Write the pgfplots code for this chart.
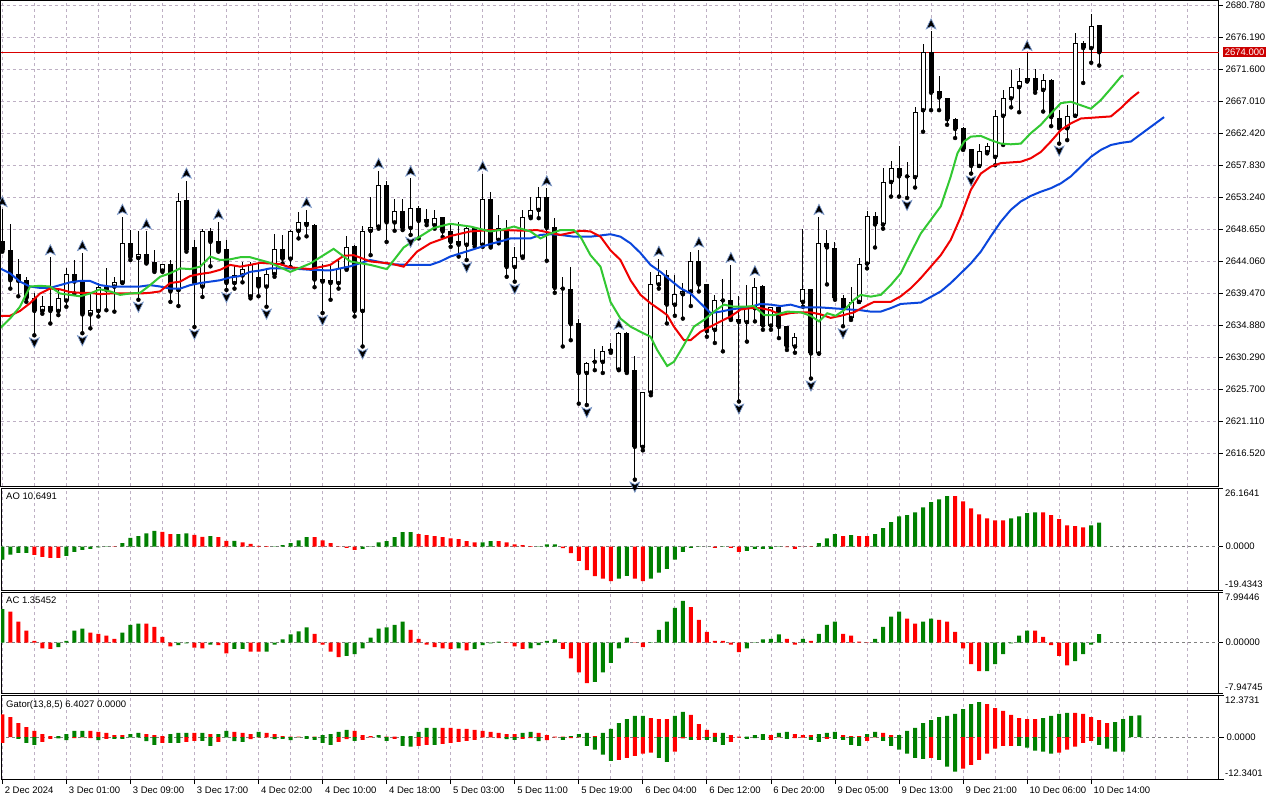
\documentclass[border=0pt]{standalone}
\usepackage{fontspec}
\setmainfont{Liberation Sans}
\usepackage{pgfplots}
\usepackage{pgfplotstable}
\pgfplotsset{compat=1.18}
\definecolor{mtgreen}{RGB}{0,128,0}
\definecolor{mtred}{RGB}{255,0,0}
\definecolor{jaw}{RGB}{10,70,220}
\definecolor{teeth}{RGB}{240,0,0}
\definecolor{lips}{RGB}{50,200,50}
\definecolor{gridc}{RGB}{190,176,196}
\definecolor{fredge}{RGB}{120,150,200}
\pgfdeclareplotmark{fup}{%
 \pgfpathmoveto{\pgfqpoint{0pt}{5.5pt}}%
 \pgfpathlineto{\pgfqpoint{4.8pt}{-4.5pt}}%
 \pgfpathlineto{\pgfqpoint{0pt}{-2pt}}%
 \pgfpathlineto{\pgfqpoint{-4.8pt}{-4.5pt}}%
 \pgfpathclose\pgfusepathqfillstroke}
\pgfdeclareplotmark{fdn}{%
 \pgfpathmoveto{\pgfqpoint{0pt}{-5.5pt}}%
 \pgfpathlineto{\pgfqpoint{4.8pt}{4.5pt}}%
 \pgfpathlineto{\pgfqpoint{0pt}{2pt}}%
 \pgfpathlineto{\pgfqpoint{-4.8pt}{4.5pt}}%
 \pgfpathclose\pgfusepathqfillstroke}
\newcommand{\lbl}{\fontsize{9.5}{11}\selectfont}
\pgfplotsset{
 mtbase/.style={
  scale only axis, width=1218pt,
  xmin=-0.1625, xmax=151.96,
  axis line style={line width=1pt},
  xtick={0,8,16,24,32,40,48,56,64,72,80,88,96,104,112,120,128,136},
  minor xtick={4,12,20,28,36,44,52,60,68,76,84,92,100,108,116,124,132,140,144,148,152},
  xmajorgrids, xminorgrids,
  major grid style={gridc, dash pattern=on 3pt off 3pt, line width=0.8pt},
  minor grid style={gridc, dash pattern=on 3pt off 3pt, line width=0.8pt},
  xticklabels={}, xtick style={draw=none}, minor tick length=0pt,
  tick label style={font=\lbl},
  ytick pos=right, yticklabel pos=right,
  ytick style={black, line width=0.8pt},
  tick align=outside, major tick length=4pt,
  yticklabel style={anchor=west, xshift=-1pt},
  clip mode=individual,
 },
 bars/.style={ybar, bar width=4pt, bar shift=0pt, draw=none, fill=#1, forget plot},
 zl/.style={gray, dash pattern=on 3pt off 3pt, line width=0.8pt, forget plot},
}
\pgfplotstableread{
k o h l c
0 2647.0 2651.5 2645.4 2645.6
1 2645.6 2649.4 2640.1 2641.3
2 2642.2 2644.3 2639.0 2641.2
3 2641.3 2641.8 2638.2 2638.7
4 2638.7 2639.4 2633.4 2636.9
5 2636.9 2639.0 2636.5 2637.6
6 2637.6 2644.6 2635.1 2636.9
7 2636.9 2640.1 2636.3 2638.7
8 2638.4 2643.0 2637.5 2642.2
9 2642.2 2644.2 2639.4 2641.1
10 2641.1 2645.2 2633.7 2636.4
11 2636.4 2639.4 2634.4 2637.0
12 2636.9 2640.9 2636.1 2640.4
13 2640.4 2643.0 2637.0 2639.9
14 2640.4 2641.8 2636.8 2641.0
15 2641.0 2650.4 2640.9 2646.7
16 2646.7 2648.5 2644.2 2644.6
17 2644.5 2648.3 2638.5 2645.0
18 2645.0 2648.3 2643.7 2643.8
19 2643.9 2645.6 2642.5 2642.7
20 2642.7 2643.7 2642.5 2643.6
21 2643.6 2644.2 2638.2 2639.7
22 2639.9 2653.8 2637.6 2652.7
23 2652.8 2655.6 2645.4 2645.7
24 2646.0 2647.1 2634.6 2640.9
25 2640.4 2648.6 2638.9 2648.4
26 2648.4 2648.8 2643.3 2646.8
27 2646.9 2649.7 2645.4 2645.5
28 2645.8 2647.1 2639.9 2640.9
29 2640.9 2643.3 2640.1 2642.0
30 2642.0 2643.9 2641.0 2642.9
31 2639.0 2643.9 2638.7 2643.7
32 2641.7 2643.7 2639.0 2640.4
33 2640.4 2642.8 2637.5 2642.2
34 2642.2 2648.0 2641.8 2645.8
35 2645.8 2647.8 2643.7 2644.4
36 2644.4 2648.5 2643.2 2648.4
37 2648.4 2651.1 2647.3 2649.6
38 2649.7 2651.4 2647.6 2649.2
39 2649.2 2649.3 2640.3 2641.4
40 2641.5 2643.7 2636.6 2641.1
41 2641.3 2643.7 2638.5 2640.9
42 2640.9 2644.2 2640.1 2643.0
43 2643.0 2647.6 2642.8 2646.1
44 2646.2 2646.3 2636.1 2636.9
45 2636.9 2649.1 2631.8 2648.4
46 2648.4 2653.3 2644.9 2649.0
47 2649.0 2657.0 2648.7 2655.0
48 2655.0 2655.6 2646.8 2649.6
49 2649.6 2652.9 2648.4 2651.3
50 2651.3 2653.0 2648.5 2648.8
51 2648.8 2655.9 2647.8 2651.6
52 2651.6 2651.9 2647.3 2649.8
53 2650.1 2651.5 2649.2 2649.6
54 2649.2 2651.4 2648.7 2650.2
55 2650.3 2650.4 2647.5 2648.3
56 2648.4 2649.5 2646.1 2646.8
57 2646.9 2649.6 2644.7 2646.4
58 2646.4 2649.2 2644.2 2648.8
59 2648.8 2648.9 2646.1 2646.4
60 2646.4 2656.6 2646.1 2653.0
61 2653.0 2654.0 2646.0 2646.2
62 2647.1 2650.7 2646.6 2648.8
63 2648.5 2649.9 2641.8 2643.2
64 2643.2 2646.1 2641.1 2644.7
65 2644.7 2651.4 2644.5 2650.4
66 2650.4 2653.3 2650.2 2651.4
67 2651.4 2654.7 2650.2 2653.2
68 2653.2 2654.5 2644.1 2648.8
69 2649.0 2650.2 2639.5 2640.2
70 2640.2 2641.8 2631.8 2640.1
71 2640.1 2643.2 2632.7 2635.0
72 2635.1 2635.8 2623.6 2628.0
73 2628.0 2629.6 2623.4 2629.4
74 2629.6 2631.5 2628.4 2629.7
75 2629.6 2631.8 2628.0 2631.2
76 2631.2 2632.3 2630.9 2631.5
77 2628.5 2633.9 2628.4 2633.7
78 2633.7 2633.9 2628.0 2628.2
79 2628.4 2630.5 2612.7 2617.4
80 2617.4 2625.3 2616.9 2625.2
81 2625.2 2642.5 2624.8 2640.7
82 2640.7 2644.4 2640.1 2642.1
83 2642.1 2642.8 2635.1 2637.8
84 2637.8 2642.1 2636.2 2639.3
85 2639.3 2640.9 2635.8 2639.7
86 2639.7 2645.3 2637.6 2644.1
87 2644.1 2645.7 2639.7 2640.7
88 2640.7 2640.7 2633.2 2634.0
89 2634.2 2639.2 2632.3 2638.5
90 2638.5 2641.5 2631.1 2638.4
91 2638.5 2643.5 2635.6 2635.7
92 2635.7 2639.0 2623.9 2635.3
93 2635.3 2640.6 2632.5 2637.3
94 2637.3 2641.6 2635.4 2640.3
95 2640.5 2640.6 2634.2 2634.8
96 2634.8 2637.5 2634.2 2637.5
97 2637.4 2637.5 2633.0 2634.6
98 2634.7 2634.7 2631.3 2631.8
99 2631.8 2633.7 2630.9 2633.1
100 2638.2 2648.6 2637.5 2640.0
101 2640.0 2640.1 2627.2 2630.8
102 2630.8 2650.4 2630.8 2646.6
103 2646.6 2648.5 2640.7 2646.0
104 2645.9 2646.8 2638.5 2638.7
105 2638.7 2639.2 2634.7 2637.3
106 2635.9 2640.4 2635.6 2638.2
107 2638.2 2644.5 2638.2 2643.7
108 2643.7 2651.2 2643.0 2650.5
109 2650.5 2651.1 2646.0 2649.3
110 2649.3 2657.4 2648.7 2655.4
111 2655.4 2658.4 2653.3 2657.4
112 2657.4 2660.5 2653.3 2656.2
113 2656.3 2658.2 2653.1 2656.2
114 2656.1 2666.2 2654.6 2665.4
115 2665.7 2675.2 2662.6 2674.0
116 2674.0 2677.0 2665.7 2668.2
117 2668.4 2670.6 2665.7 2667.5
118 2667.5 2667.5 2663.6 2664.4
119 2664.4 2664.6 2661.7 2663.0
120 2663.1 2663.3 2660.0 2660.1
121 2660.1 2660.1 2656.6 2657.7
122 2657.7 2660.9 2657.7 2659.9
123 2659.7 2661.0 2659.5 2660.5
124 2659.0 2665.7 2657.8 2664.9
125 2664.9 2668.6 2660.7 2667.4
126 2667.4 2671.5 2666.1 2669.0
127 2669.0 2671.8 2665.4 2669.9
128 2669.9 2673.9 2669.8 2670.3
129 2670.3 2671.6 2668.2 2668.6
130 2668.6 2670.9 2665.5 2670.0
131 2670.0 2670.1 2663.4 2664.7
132 2664.5 2665.7 2660.9 2663.1
133 2663.1 2666.5 2661.4 2664.9
134 2664.9 2676.7 2664.9 2675.4
135 2675.4 2675.6 2669.6 2674.6
136 2674.6 2679.5 2672.5 2677.7
137 2677.9 2677.9 2672.1 2674.0
}\candles
\begin{document}
\begin{tikzpicture}
\useasboundingbox (0,0) rectangle (1280pt,-800pt);
\fill[white] (0,0) rectangle (1280pt,-800pt);
% ---------------- main price panel
\begin{axis}[mtbase, at={(1pt,-1pt)}, anchor=north west, height=485pt,
 ymin=2611.786, ymax=2681.354, ymajorgrids,
 ytick={2616.52,2621.11,2625.70,2630.29,2634.88,2639.47,2644.06,2648.65,2653.24,2657.83,2662.42,2667.01,2671.60,2676.19,2680.78},
 yticklabels={2616.520,2621.110,2625.700,2630.290,2634.880,2639.470,2644.060,2648.650,2653.240,2657.830,2662.420,2667.010,2671.600,2676.190,2680.780}]
\addplot[red!85!black, line width=0.9pt, forget plot] coordinates {(-1,2674.0) (154,2674.0)};
% wicks
\addplot[only marks, mark=none, forget plot, error bars/.cd, y dir=plus, y explicit, error mark=none,
 error bar style={draw=black, solid, line width=1pt}]
 table[x=k, y=l, y error plus expr={\thisrow{h}-\thisrow{l}}] {\candles};
% bodies
\addplot[only marks, mark=none, forget plot, error bars/.cd, y dir=plus, y explicit, error mark=none,
 error bar style={draw=black, solid, line width=5pt}]
 table[x=k, y expr={min(\thisrow{o},\thisrow{c})}, y error plus expr={max(abs(\thisrow{c}-\thisrow{o}),0.12)}] {\candles};
% white bodies
\addplot[only marks, mark=none, forget plot, restrict expr to domain={\thisrow{c}-\thisrow{o}}{0.3:100},
 error bars/.cd, y dir=plus, y explicit, error mark=none,
 error bar style={draw=white, solid, line width=3pt, shorten <=1pt, shorten >=1pt}]
 table[x=k, y=o, y error plus expr={\thisrow{c}-\thisrow{o}}] {\candles};
% Alligator jaw
\addplot[jaw, line width=2pt, forget plot] coordinates {(-0.29,2643.0) (0.96,2642.3) (2.21,2641.1) (3.46,2640.4) (4.71,2640.2) (5.96,2640.2) (7.21,2640.6) (8.46,2641.0) (9.71,2641.2) (10.96,2641.2) (12.21,2640.6) (13.46,2640.4) (14.71,2640.4) (15.96,2640.4) (17.21,2640.4) (18.46,2640.6) (19.71,2640.4) (20.96,2640.1) (22.21,2640.1) (23.46,2640.6) (24.71,2640.9) (25.96,2641.1) (27.21,2641.3) (28.46,2641.7) (29.71,2641.9) (30.96,2642.5) (32.21,2642.7) (33.46,2643.0) (35.96,2643.0) (38.46,2642.8) (40.96,2642.7) (43.46,2643.3) (45.96,2644.2) (48.46,2643.6) (50.96,2643.5) (53.46,2643.5) (54.71,2644.0) (55.96,2644.7) (58.46,2645.6) (60.96,2646.5) (62.63,2647.0) (63.46,2647.3) (65.96,2647.3) (67.21,2647.8) (68.46,2647.9) (69.71,2647.8) (71.38,2647.55) (73.46,2647.55) (75.96,2647.9) (77.21,2647.55) (78.46,2646.6) (79.71,2645.2) (80.96,2643.5) (82.21,2642.5) (83.46,2641.3) (84.71,2640.15) (85.96,2639.4) (87.21,2638.0) (88.46,2636.6) (89.71,2636.8) (90.96,2637.1) (92.21,2637.3) (93.46,2637.5) (94.71,2637.9) (95.96,2637.8) (97.21,2637.6) (98.46,2637.8) (99.71,2637.4) (100.96,2637.4) (102.21,2637.4) (104.71,2637.2) (107.21,2637.0) (108.46,2636.8) (109.71,2636.8) (110.96,2637.3) (112.21,2637.9) (113.46,2638.0) (114.71,2638.1) (115.96,2638.9) (117.21,2639.7) (118.46,2640.9) (119.71,2642.3) (120.96,2643.7) (122.21,2645.4) (123.46,2647.6) (124.71,2649.7) (125.96,2651.4) (127.21,2652.6) (128.46,2653.4) (129.71,2654.0) (130.96,2654.5) (132.21,2655.2) (133.46,2656.2) (134.71,2657.6) (135.96,2659.0) (137.21,2660.0) (138.46,2660.7) (139.71,2661.0) (140.96,2661.2) (143.2,2663.1) (145.1,2664.7)};
% teeth
\addplot[teeth, line width=2pt, forget plot] coordinates {(-0.29,2636.2) (0.96,2636.2) (2.21,2636.9) (3.46,2638.0) (4.71,2639.4) (5.96,2640.1) (7.21,2640.0) (8.46,2639.6) (9.71,2639.5) (10.96,2639.5) (12.21,2639.3) (13.46,2639.4) (14.71,2639.4) (15.96,2639.4) (17.21,2639.4) (18.46,2639.5) (19.71,2639.7) (20.96,2640.9) (22.21,2641.1) (23.46,2641.9) (24.71,2642.2) (25.96,2642.4) (27.21,2642.8) (28.46,2643.5) (29.71,2643.25) (30.96,2643.5) (32.21,2643.8) (33.46,2643.7) (34.71,2643.6) (35.96,2643.15) (38.46,2642.9) (40.96,2643.5) (42.63,2644.8) (43.88,2644.9) (45.96,2644.0) (48.46,2643.7) (50.13,2643.25) (51.79,2645.4) (53.46,2646.6) (55.96,2647.65) (58.46,2648.3) (60.96,2648.5) (62.63,2648.5) (65.13,2648.4) (66.79,2648.5) (68.46,2648.1) (69.71,2647.8) (70.96,2648.1) (72.21,2648.4) (73.46,2648.3) (74.71,2647.55) (75.96,2645.6) (77.21,2644.2) (78.46,2641.3) (79.71,2639.2) (80.96,2638.0) (82.21,2637.0) (83.04,2636.3) (83.88,2634.65) (85.13,2632.7) (85.96,2632.7) (87.21,2633.9) (88.46,2634.65) (89.71,2635.4) (90.96,2636.1) (92.21,2637.1) (93.46,2637.3) (94.71,2637.3) (95.96,2637.0) (97.21,2636.3) (98.46,2636.6) (99.71,2636.7) (100.96,2636.7) (102.21,2636.4) (103.46,2635.9) (104.71,2636.2) (106.38,2636.7) (107.63,2637.5) (108.88,2638.2) (110.96,2638.2) (112.21,2639.0) (113.46,2640.15) (114.71,2641.6) (115.96,2643.25) (117.21,2644.9) (118.46,2647.1) (119.71,2650.4) (120.96,2654.25) (122.21,2656.6) (123.46,2657.6) (124.71,2658.1) (125.96,2658.2) (127.21,2658.3) (128.46,2658.8) (129.71,2659.7) (130.96,2661.2) (132.21,2662.85) (133.46,2663.8) (134.71,2664.5) (135.96,2664.6) (137.21,2664.7) (138.46,2664.8) (139.71,2666.0) (140.96,2667.4) (141.96,2668.3)};
% lips
\addplot[lips, line width=2pt, forget plot] coordinates {(-0.29,2634.4) (0.96,2635.8) (2.21,2637.5) (3.46,2640.4) (4.71,2640.5) (5.96,2640.4) (7.21,2639.4) (8.46,2639.2) (9.71,2639.0) (10.96,2639.4) (12.21,2640.0) (13.46,2639.7) (14.71,2639.2) (15.96,2639.4) (17.21,2639.5) (18.46,2640.6) (19.71,2641.8) (20.96,2642.3) (22.21,2643.0) (23.46,2642.9) (24.71,2643.25) (25.96,2644.7) (27.21,2644.2) (28.46,2644.3) (29.71,2644.6) (30.96,2644.6) (32.21,2644.2) (33.46,2643.8) (34.71,2643.15) (35.96,2642.5) (38.46,2643.7) (41.38,2645.8) (43.46,2644.0) (45.96,2643.5) (48.04,2642.9) (50.13,2646.0) (51.79,2647.3) (53.88,2648.8) (55.96,2649.4) (58.46,2649.0) (60.96,2648.3) (62.63,2648.6) (63.88,2649.0) (65.96,2648.3) (67.21,2647.3) (68.46,2648.0) (69.71,2648.5) (71.38,2648.5) (72.21,2647.55) (73.46,2644.9) (74.71,2643.25) (75.96,2638.2) (77.21,2635.8) (78.46,2634.65) (79.71,2633.9) (80.96,2633.2) (81.79,2631.3) (83.04,2629.0) (83.88,2629.6) (85.13,2632.0) (86.38,2634.65) (87.63,2635.6) (88.88,2636.8) (90.13,2637.8) (91.38,2637.5) (92.63,2637.5) (93.88,2637.6) (95.13,2636.3) (96.38,2636.3) (98.04,2636.8) (99.71,2636.7) (100.96,2636.2) (102.0,2635.4) (103.04,2636.56) (104.08,2636.2) (105.13,2637.0) (106.38,2638.5) (107.21,2639.2) (108.46,2638.95) (109.71,2639.2) (110.96,2640.6) (112.21,2642.3) (113.46,2645.2) (114.71,2648.0) (115.96,2649.95) (117.21,2651.9) (118.46,2656.2) (119.29,2659.5) (120.13,2661.2) (120.96,2661.9) (122.21,2662.0) (123.46,2661.4) (124.71,2660.9) (125.96,2660.8) (127.21,2660.9) (128.46,2662.4) (129.71,2663.6) (130.96,2665.2) (132.21,2666.7) (133.46,2666.9) (134.71,2666.4) (135.96,2665.9) (137.21,2667.15) (138.46,2668.8) (139.71,2670.5) (139.96,2670.7)};
% fractals
\addplot[only marks, mark=fup, mark options={fill=black, draw=fredge, line width=0.7pt, yshift=7pt}, forget plot] coordinates {(0,2651.5) (6,2644.6) (10,2645.2) (15,2650.4) (18,2648.3) (23,2655.6) (27,2649.7) (38,2651.4) (47,2657.0) (51,2655.9) (60,2656.6) (68,2654.5) (77,2633.9) (82,2644.4) (87,2645.7) (91,2643.5) (94,2641.6) (102,2650.4) (116,2677.0) (128,2673.9)};
\addplot[only marks, mark=fdn, mark options={fill=black, draw=fredge, line width=0.7pt, yshift=-7pt}, forget plot] coordinates {(4,2633.4) (10,2633.7) (17,2638.5) (24,2634.6) (28,2639.9) (33,2637.5) (40,2636.6) (45,2631.8) (51,2647.8) (58,2644.2) (64,2641.1) (73,2623.4) (79,2612.7) (92,2623.9) (101,2627.2) (105,2634.7) (113,2653.1) (121,2656.6) (132,2660.9)};
\node[fill=red!80!black, text=white, anchor=west, inner sep=1.6pt, font=\lbl] at (axis cs:151.96,2674.0) [xshift=4pt] {2674.000};
\end{axis}
% ---------------- AO
\begin{axis}[mtbase, at={(1pt,-488pt)}, anchor=north west, height=102pt,
 ymin=-19.4343, ymax=26.1641, ytick={-19.4343,0,26.1641}, yticklabels={,0.0000,}]
\addplot[zl] coordinates {(-1,0) (154,0)};
\addplot[bars=mtgreen] coordinates {(0,-5.8) (1,-3.6) (2,-2.8) (3,-2.8) (8,-4.2) (9,-2.4) (10,-1.5) (11,-1.0) (12,-0.4) (13,-0.1) (15,1.5) (16,3.9) (17,4.6) (18,5.9) (19,7.0) (22,5.5) (23,5.9) (26,4.6) (29,2.5) (34,0.1) (35,0.6) (36,1.5) (37,2.8) (38,4.2) (45,-1.0) (46,-0.1) (47,1.9) (48,2.4) (49,4.2) (50,6.4) (51,6.4) (60,1.9) (61,2.4) (67,0.1) (68,1.0) (69,1.0) (77,-14.4) (78,-13.1) (81,-14.4) (82,-11.7) (83,-10.0) (84,-5.9) (85,-2.4) (86,-0.6) (87,-0.15) (88,-0.05) (90,-0.1) (93,-1.9) (94,-1.0) (95,-1.0) (96,-1.0) (97,-0.1) (102,1.5) (103,3.7) (104,5.5) (106,5.1) (109,5.5) (110,8.2) (111,10.9) (112,13.5) (113,14.0) (114,15.3) (115,17.5) (116,19.8) (117,21.1) (118,22.5) (126,12.6) (127,13.5) (128,14.9) (129,15.3) (136,9.5) (137,10.65)};
\addplot[bars=mtred] coordinates {(4,-3.7) (5,-4.6) (6,-5.1) (7,-5.1) (14,-0.2) (20,6.5) (21,5.5) (24,5.2) (25,4.3) (27,4.2) (28,2.5) (30,1.9) (31,1.2) (32,0.3) (33,0.15) (39,4.2) (40,2.8) (41,1.5) (42,0.1) (43,-0.6) (44,-1.5) (52,5.5) (53,5.1) (54,4.6) (55,4.2) (56,3.7) (57,3.3) (58,2.4) (59,1.9) (62,2.4) (63,1.9) (64,1.0) (65,0.6) (66,0.15) (70,-0.7) (71,-3.0) (72,-6.4) (73,-10.6) (74,-13.2) (75,-14.4) (76,-15.5) (79,-14.4) (80,-15.5) (89,-0.6) (91,-0.6) (92,-2.4) (98,-0.3) (99,-1.0) (100,-0.05) (101,-0.15) (105,4.6) (107,4.6) (108,4.6) (119,22.5) (120,20.2) (121,17.1) (122,14.4) (123,12.6) (124,11.7) (125,11.7) (130,15.3) (131,14.0) (132,12.2) (133,9.5) (134,9.1) (135,8.6)};
\node[anchor=north west, font=\lbl, inner sep=1pt] at (rel axis cs:1,1) [xshift=5pt, yshift=-1pt] {26.1641};
\node[anchor=south west, font=\lbl, inner sep=1pt] at (rel axis cs:1,0) [xshift=5pt, yshift=1pt] {-19.4343};
\node[anchor=north west, font=\lbl, inner sep=1pt] at (rel axis cs:0,1) [xshift=4pt, yshift=-4pt] {AO 10.6491};
\end{axis}
% ---------------- AC
\begin{axis}[mtbase, at={(1pt,-592pt)}, anchor=north west, height=101pt,
 ymin=-7.94745, ymax=7.99446, ytick={-7.94745,0,7.99446}, yticklabels={,0.00000,}]
\addplot[zl] coordinates {(-1,0) (154,0)};
\addplot[bars=mtgreen] coordinates {(0,5.3) (7,-0.7) (8,0.3) (9,1.9) (10,2.2) (15,1.6) (16,2.8) (17,3.0) (22,-0.4) (23,-0.1) (26,-0.3) (29,-1.0) (30,-1.0) (33,-1.4) (34,-0.3) (35,0.5) (36,1.3) (37,1.8) (38,2.4) (43,-2.1) (44,-1.8) (45,-0.9) (46,0.8) (47,2.2) (48,2.4) (49,2.8) (50,3.3) (57,-0.9) (59,-1.0) (60,-0.4) (61,-0.1) (62,0.15) (66,-0.9) (67,-0.4) (68,0.3) (69,0.5) (74,-6.2) (75,-4.7) (76,-3.2) (77,-0.9) (78,0.8) (81,-0.05) (82,2.0) (83,3.3) (84,5.5) (85,6.6) (93,-0.9) (94,0.05) (95,0.5) (96,0.6) (97,1.3) (100,0.6) (102,1.4) (103,2.8) (104,3.3) (109,0.6) (110,2.5) (111,4.1) (112,4.9) (115,3.3) (116,3.8) (123,-4.5) (124,-3.4) (125,-1.8) (126,-0.1) (127,1.1) (128,1.9) (134,-2.9) (135,-1.8) (136,-0.3) (137,1.35)};
\addplot[bars=mtred] coordinates {(1,4.9) (2,3.3) (3,1.9) (4,0.3) (5,-0.9) (6,-1.0) (11,1.6) (12,1.4) (13,1.1) (14,0.6) (18,3.0) (19,2.5) (20,0.9) (21,-0.6) (24,-0.8) (25,-0.9) (27,-0.4) (28,-1.7) (31,-1.4) (32,-1.4) (39,1.4) (40,-0.3) (41,-1.4) (42,-2.3) (51,2.0) (52,0.6) (53,-0.3) (54,-0.7) (55,-0.9) (56,-1.0) (58,-1.2) (63,-0.05) (64,-0.6) (65,-1.0) (70,-1.0) (71,-2.5) (72,-4.7) (73,-6.4) (79,0.05) (80,-0.7) (86,5.6) (87,3.6) (88,1.7) (89,0.3) (90,0.3) (91,-0.3) (92,-1.5) (98,0.6) (99,-0.3) (101,0.3) (105,1.4) (106,1.1) (107,0.15) (108,-0.05) (113,3.8) (114,3.0) (117,3.6) (118,3.3) (119,1.7) (120,-0.9) (121,-3.4) (122,-4.5) (129,1.9) (130,0.9) (131,-0.4) (132,-2.1) (133,-3.6)};
\node[anchor=north west, font=\lbl, inner sep=1pt] at (rel axis cs:1,1) [xshift=5pt, yshift=-1pt] {7.99446};
\node[anchor=south west, font=\lbl, inner sep=1pt] at (rel axis cs:1,0) [xshift=5pt, yshift=1pt] {-7.94745};
\node[anchor=north west, font=\lbl, inner sep=1pt] at (rel axis cs:0,1) [xshift=4pt, yshift=-4pt] {AC 1.35452};
\end{axis}
% ---------------- Gator
\begin{axis}[mtbase, at={(1pt,-695pt)}, anchor=north west, height=84pt,
 ymin=-12.3401, ymax=12.3731, ytick={-12.3401,0,12.3731}, yticklabels={,0.0000,},
 xtick pos=left, xtick style={draw=black, line width=0.8pt}, major tick length=5pt,
 xticklabels={2 Dec 2024,3 Dec 01:00,3 Dec 09:00,3 Dec 17:00,4 Dec 02:00,4 Dec 10:00,4 Dec 18:00,5 Dec 03:00,5 Dec 11:00,5 Dec 19:00,6 Dec 04:00,6 Dec 12:00,6 Dec 20:00,9 Dec 05:00,9 Dec 13:00,9 Dec 21:00,10 Dec 06:00,10 Dec 14:00},
 xticklabel style={anchor=north west, xshift=-1pt, yshift=1pt}]
\addplot[zl] coordinates {(-1,0) (154,0)};
\addplot[bars=mtgreen] coordinates {(7,0.3) (8,0.9) (9,1.8) (10,1.8) (16,0.9) (17,1.2) (21,0.9) (22,1.2) (23,1.2) (25,1.2) (27,0.9) (28,1.8) (32,1.5) (38,0.3) (40,0.6) (41,0.9) (42,1.5) (43,2.1) (47,0.6) (50,0.3) (51,0.3) (52,1.5) (53,2.7) (54,2.7) (65,1.2) (66,1.5) (71,0.3) (72,0.9) (73,1.2) (75,1.2) (76,2.4) (77,4.1) (78,5.3) (79,6.2) (80,6.2) (84,6.2) (85,7.4) (90,1.2) (93,0.1) (94,0.6) (95,0.9) (97,1.2) (98,1.5) (102,0.9) (103,1.2) (104,1.5) (108,0.9) (109,1.5) (112,0.6) (113,1.8) (114,2.7) (115,4.1) (116,5.0) (117,5.9) (118,6.2) (119,6.8) (120,8.2) (121,9.7) (122,10.3) (130,5.6) (131,6.2) (132,6.8) (133,7.1) (139,4.4) (140,5.3) (141,6.2) (142,6.4)};
\addplot[bars=mtred] coordinates {(0,6.7) (1,5.9) (2,4.1) (3,2.9) (4,1.8) (5,0.9) (6,0.3) (11,1.8) (12,1.5) (13,1.2) (14,0.6) (15,0.6) (18,0.9) (19,0.6) (20,0.3) (24,1.2) (26,0.9) (29,1.5) (30,1.2) (31,0.9) (33,1.2) (34,0.9) (35,0.3) (36,0.1) (37,0.1) (39,0.1) (44,1.8) (45,0.6) (46,0.3) (48,0.1) (49,0.1) (55,2.7) (56,2.7) (57,2.4) (58,2.4) (59,2.1) (60,1.8) (61,1.5) (62,1.2) (63,0.9) (64,0.9) (67,1.2) (68,0.6) (69,0.1) (70,0.1) (74,0.3) (81,5.6) (82,5.3) (83,5.3) (86,6.5) (87,3.8) (88,2.1) (89,1.2) (91,0.6) (92,0.1) (96,0.6) (99,0.9) (100,0.6) (101,0.6) (105,0.6) (106,0.3) (107,0.3) (110,1.2) (111,0.6) (123,9.7) (124,8.5) (125,7.7) (126,6.5) (127,5.6) (128,5.3) (129,5.3) (134,7.1) (135,6.8) (136,5.9) (137,5.0) (138,4.1)};
\addplot[bars=mtgreen] coordinates {(2,-0.5) (3,-1.7) (4,-2.3) (7,-0.4) (8,-0.9) (12,-0.9) (14,-0.5) (15,-0.5) (16,-0.1) (17,-0.1) (18,-1.2) (19,-2.3) (21,-1.7) (22,-1.7) (25,-1.1) (26,-2.6) (28,-0.1) (29,-1.2) (30,-1.4) (34,-0.6) (35,-0.5) (36,-0.9) (37,-0.1) (38,-0.5) (39,-0.8) (40,-1.7) (41,-2.3) (44,-1.1) (47,-0.1) (48,-1.1) (50,-2.6) (51,-2.8) (54,-2.3) (63,-0.6) (64,-0.8) (67,-1.2) (70,-0.8) (73,-2.6) (74,-3.7) (75,-5.2) (76,-7.0) (82,-6.1) (83,-7.3) (86,-0.8) (88,-0.8) (89,-1.4) (90,-2.3) (93,-0.5) (94,-0.3) (95,-0.8) (98,-0.5) (101,-0.8) (102,-1.4) (104,-0.5) (105,-0.8) (106,-2.3) (107,-2.6) (110,-1.1) (111,-2.6) (112,-3.7) (113,-4.9) (114,-6.1) (115,-6.4) (117,-6.7) (118,-8.7) (119,-10.2) (127,-2.6) (128,-3.1) (129,-4.0) (130,-4.3) (131,-4.9) (137,-2.3) (138,-3.4) (139,-4.3) (140,-4.3)};
\addplot[bars=mtred] coordinates {(0,-1.7) (5,-1.4) (6,-0.5) (9,-0.3) (10,-0.1) (11,-0.3) (13,-0.5) (20,-1.7) (23,-1.4) (24,-1.1) (27,-1.4) (31,-0.6) (32,-0.1) (33,-0.1) (42,-1.4) (43,-0.6) (45,-0.8) (46,-0.1) (49,-0.5) (52,-2.6) (53,-2.3) (55,-2.0) (56,-1.7) (57,-1.4) (58,-1.1) (59,-0.8) (60,-0.1) (61,-0.1) (62,-0.3) (65,-0.5) (66,-0.3) (68,-0.9) (69,-0.1) (71,-0.3) (72,-0.1) (77,-6.7) (78,-6.1) (79,-5.5) (80,-4.9) (81,-4.6) (84,-4.3) (85,-0.4) (87,-0.8) (91,-1.4) (92,-0.2) (96,-0.8) (97,-0.1) (99,-0.3) (100,-0.2) (103,-0.5) (108,-1.1) (109,-0.1) (116,-6.1) (120,-9.3) (121,-8.2) (122,-6.7) (123,-4.9) (124,-3.4) (125,-2.6) (126,-2.6) (132,-4.6) (133,-3.7) (134,-2.8) (135,-1.7) (136,-1.1)};
\node[anchor=north west, font=\lbl, inner sep=1pt] at (rel axis cs:1,1) [xshift=5pt, yshift=-1pt] {12.3731};
\node[anchor=south west, font=\lbl, inner sep=1pt] at (rel axis cs:1,0) [xshift=5pt, yshift=1pt] {-12.3401};
\node[anchor=north west, font=\lbl, inner sep=1pt] at (rel axis cs:0,1) [xshift=4pt, yshift=-4pt] {Gator(13,8,5) 6.4027 0.0000};
\end{axis}
\end{tikzpicture}
\end{document}
